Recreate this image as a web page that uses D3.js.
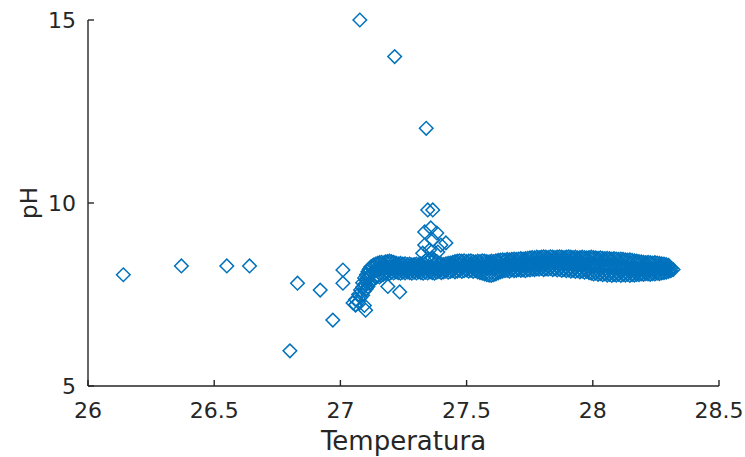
<!DOCTYPE html>
<html><head><meta charset="utf-8">
<script src="https://cdn.jsdelivr.net/npm/d3@7"></script>
<style>
html,body{margin:0;padding:0;background:#fff;}
svg{display:block;font-family:"DejaVu Sans",sans-serif;}
</style></head>
<body><svg id="chart" width="745" height="457"></svg>
<script>
// ---- data (Temperatura, pH) ----
const xTicks = [26, 26.5, 27, 27.5, 28, 28.5];
const yTicks = [5, 10, 15];
const xTickLabels = ["26", "26.5", "27", "27.5", "28", "28.5"];
const yTickLabels = ["5", "10", "15"];

// isolated points
const outTemp = [26.14, 26.37, 26.55, 26.64, 26.80, 26.83, 26.92, 26.97, 27.01, 27.01, 27.05, 27.06, 27.095, 27.10, 27.188, 27.235, 27.077, 27.215, 27.34, 27.346, 27.366, 27.334, 27.358, 27.382, 27.334, 27.366, 27.398, 27.418, 27.326, 27.354, 27.386];
const outPH   = [8.04, 8.28, 8.28, 8.28, 5.96, 7.81, 7.62, 6.80, 8.17, 7.81, 7.27, 7.21, 7.20, 7.07, 7.72, 7.57, 15.0, 14.0, 12.04, 9.81, 9.81, 9.21, 9.32, 9.18, 8.85, 8.99, 8.85, 8.91, 8.63, 8.72, 8.66];

// dense band: each row = [Temperatura, pH readings...]
const bandRise = [
  [27.060, 7.22, 7.36], [27.072, 7.30, 7.50], [27.080, 7.42, 7.62], [27.088, 7.48, 7.70, 7.82],
  [27.096, 7.60, 7.78, 7.95], [27.103, 7.66, 7.88, 8.04],
  [27.109, 7.72, 7.96, 8.12], [27.114, 7.80, 8.02, 8.19], [27.120, 7.84, 8.06, 8.25],
  [27.127, 7.90, 8.10, 8.28], [27.133, 7.93, 8.13, 8.31], [27.140, 7.96, 8.16, 8.33], [27.147, 8.00, 8.18, 8.35],
  [27.155, 7.98, 8.20, 8.37], [27.163, 8.03, 8.22, 8.38], [27.170, 8.05, 8.21, 8.36]
];
const bandMid = [
  [27.178, 8.08, 8.24, 8.39], [27.186, 8.10, 8.22, 8.40], [27.194, 8.07, 8.25, 8.41], [27.202, 8.11, 8.23, 8.40],
  [27.211, 8.09, 8.26, 8.38], [27.220, 8.12, 8.24, 8.36], [27.229, 8.10, 8.22, 8.34], [27.238, 8.08, 8.23, 8.35],
  [27.247, 8.11, 8.21, 8.33], [27.256, 8.09, 8.24, 8.34], [27.265, 8.12, 8.22, 8.32], [27.274, 8.10, 8.20, 8.33],
  [27.283, 8.08, 8.23, 8.31], [27.292, 8.11, 8.21, 8.32], [27.301, 8.09, 8.22, 8.33], [27.310, 8.12, 8.20, 8.31],
  [27.319, 8.10, 8.23, 8.34], [27.328, 8.08, 8.21, 8.36], [27.337, 8.11, 8.24, 8.42], [27.346, 8.09, 8.22, 8.48],
  [27.355, 8.12, 8.25, 8.45], [27.364, 8.10, 8.23, 8.50], [27.373, 8.08, 8.21, 8.44], [27.382, 8.11, 8.24, 8.40],
  [27.391, 8.13, 8.22, 8.35], [27.400, 8.10, 8.25, 8.33], [27.409, 8.12, 8.23, 8.32], [27.418, 8.14, 8.26, 8.34],
  [27.427, 8.11, 8.24, 8.35], [27.436, 8.13, 8.27, 8.36], [27.445, 8.15, 8.25, 8.38], [27.454, 8.12, 8.28, 8.40],
  [27.463, 8.14, 8.26, 8.41], [27.472, 8.16, 8.29, 8.42], [27.481, 8.13, 8.27, 8.41], [27.490, 8.15, 8.28, 8.42],
  [27.499, 8.17, 8.30, 8.40], [27.508, 8.14, 8.27, 8.41], [27.517, 8.16, 8.29, 8.42], [27.526, 8.13, 8.28, 8.40],
  [27.535, 8.15, 8.26, 8.39], [27.544, 8.12, 8.27, 8.41], [27.553, 8.10, 8.25, 8.40], [27.562, 8.08, 8.26, 8.42],
  [27.571, 8.06, 8.24, 8.41], [27.580, 8.04, 8.25, 8.40], [27.589, 8.03, 8.23, 8.39], [27.598, 8.02, 8.24, 8.41],
  [27.607, 8.04, 8.22, 8.40], [27.616, 8.06, 8.25, 8.42], [27.625, 8.09, 8.27, 8.43], [27.634, 8.12, 8.28, 8.44],
  [27.643, 8.14, 8.30, 8.45], [27.652, 8.15, 8.29, 8.44], [27.661, 8.16, 8.31, 8.46], [27.670, 8.14, 8.30, 8.45],
  [27.679, 8.17, 8.32, 8.46], [27.688, 8.15, 8.31, 8.47], [27.697, 8.16, 8.33, 8.46], [27.706, 8.18, 8.32, 8.47],
  [27.715, 8.16, 8.34, 8.48], [27.724, 8.17, 8.33, 8.47], [27.733, 8.15, 8.32, 8.48], [27.742, 8.18, 8.34, 8.49]
];
const bandRight = [
  [27.751, 8.17, 8.33, 8.50], [27.760, 8.19, 8.35, 8.51], [27.769, 8.18, 8.34, 8.50], [27.778, 8.20, 8.36, 8.52],
  [27.787, 8.19, 8.35, 8.51], [27.796, 8.21, 8.37, 8.52], [27.805, 8.18, 8.36, 8.53], [27.814, 8.20, 8.35, 8.52],
  [27.823, 8.19, 8.37, 8.51], [27.832, 8.21, 8.36, 8.53], [27.841, 8.18, 8.38, 8.52], [27.850, 8.20, 8.37, 8.51],
  [27.859, 8.17, 8.36, 8.52], [27.868, 8.19, 8.35, 8.53], [27.877, 8.16, 8.37, 8.52], [27.886, 8.18, 8.36, 8.51],
  [27.895, 8.15, 8.35, 8.52], [27.904, 8.17, 8.34, 8.53], [27.913, 8.14, 8.36, 8.52], [27.922, 8.16, 8.35, 8.51],
  [27.931, 8.13, 8.34, 8.52], [27.940, 8.15, 8.33, 8.50], [27.949, 8.12, 8.35, 8.51], [27.958, 8.14, 8.34, 8.52],
  [27.967, 8.11, 8.32, 8.51], [27.976, 8.13, 8.33, 8.50], [27.985, 8.10, 8.31, 8.51], [27.994, 8.08, 8.30, 8.52],
  [28.003, 8.06, 8.29, 8.51], [28.012, 8.08, 8.30, 8.50], [28.021, 8.05, 8.28, 8.49], [28.030, 8.07, 8.29, 8.50],
  [28.039, 8.04, 8.27, 8.49], [28.048, 8.06, 8.28, 8.48], [28.057, 8.03, 8.26, 8.49], [28.066, 8.05, 8.27, 8.48],
  [28.075, 8.02, 8.25, 8.47], [28.084, 8.04, 8.26, 8.48], [28.093, 8.03, 8.24, 8.47], [28.102, 8.05, 8.25, 8.46],
  [28.111, 8.02, 8.23, 8.47], [28.120, 8.04, 8.24, 8.46], [28.129, 8.03, 8.22, 8.45], [28.138, 8.05, 8.23, 8.44],
  [28.147, 8.02, 8.21, 8.45], [28.156, 8.04, 8.22, 8.43], [28.165, 8.03, 8.20, 8.42], [28.174, 8.05, 8.21, 8.41],
  [28.183, 8.04, 8.19, 8.40], [28.192, 8.06, 8.20, 8.39], [28.201, 8.05, 8.21, 8.38], [28.210, 8.07, 8.19, 8.37],
  [28.219, 8.06, 8.20, 8.38], [28.228, 8.05, 8.21, 8.37], [28.237, 8.07, 8.19, 8.36], [28.246, 8.06, 8.20, 8.37],
  [28.255, 8.08, 8.21, 8.36], [28.264, 8.07, 8.22, 8.35], [28.273, 8.09, 8.21, 8.34], [28.282, 8.10, 8.22, 8.33],
  [28.291, 8.11, 8.21, 8.32], [28.300, 8.13, 8.22, 8.30], [28.309, 8.15, 8.21], [28.318, 8.18]
];

// ---- build point list ----
const points = [];
outTemp.forEach((t, i) => points.push({t: t, ph: outPH[i]}));
[bandRise, bandMid, bandRight].forEach(rows => rows.forEach(r => {
  for (let k = 1; k < r.length; k++) points.push({t: r[0], ph: r[k]});
}));

// ---- layout ----
const svg = d3.select("#chart");
const mLeft = 88, mRight = 719, mTop = 20, mBottom = 386;
const x = d3.scaleLinear().domain([26, 28.5]).range([mLeft, mRight]);
const y = d3.scaleLinear().domain([5, 15]).range([mBottom, mTop]);
const axisColor = "#262626";
const blue = "#0072BD";

// markers
const diamond = d3.symbol().type(d3.symbolSquare).size(92);
svg.append("g").selectAll("path").data(points).join("path")
  .attr("d", diamond)
  .attr("transform", d => `translate(${x(d.t)},${y(d.ph)}) rotate(45)`)
  .attr("fill", "none")
  .attr("stroke", blue)
  .attr("stroke-width", 1.5);

// axes lines
const ax = svg.append("g").attr("stroke", axisColor).attr("stroke-width", 1.4).attr("fill", "none");
ax.append("line").attr("x1", mLeft).attr("x2", mLeft).attr("y1", mTop).attr("y2", mBottom);
ax.append("line").attr("x1", mLeft).attr("x2", mRight).attr("y1", mBottom).attr("y2", mBottom);
xTicks.forEach(v => ax.append("line").attr("x1", x(v)).attr("x2", x(v)).attr("y1", mBottom).attr("y2", mBottom - 6));
yTicks.forEach(v => ax.append("line").attr("x1", mLeft).attr("x2", mLeft + 6).attr("y1", y(v)).attr("y2", y(v)));

// tick labels
svg.append("g").selectAll("text").data(xTicks).join("text")
  .attr("x", d => x(d)).attr("y", 418)
  .attr("text-anchor", "middle")
  .attr("font-size", 22).attr("fill", axisColor)
  .text((d, i) => xTickLabels[i]);
svg.append("g").selectAll("text").data(yTicks).join("text")
  .attr("x", mLeft - 12).attr("y", d => y(d))
  .attr("dy", "0.36em")
  .attr("text-anchor", "end")
  .attr("font-size", 22).attr("fill", axisColor)
  .text((d, i) => yTickLabels[i]);

// axis titles
svg.append("text").attr("x", (mLeft + mRight) / 2).attr("y", 450)
  .attr("text-anchor", "middle").attr("font-size", 26).attr("fill", axisColor)
  .text("Temperatura");
svg.append("text").attr("transform", `translate(37,${y(10)}) rotate(-90)`)
  .attr("text-anchor", "middle").attr("font-size", 23).attr("fill", axisColor)
  .text("pH");
</script></body></html>
